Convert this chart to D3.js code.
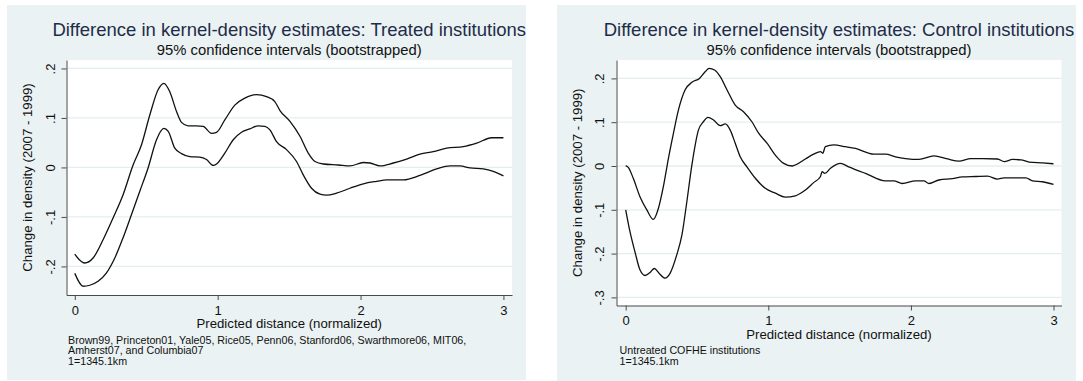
<!DOCTYPE html>
<html>
<head>
<meta charset="utf-8">
<script src="https://cdn.jsdelivr.net/npm/d3@7"></script>
<style>
  html, body { margin: 0; padding: 0; background: #fff; }
  svg { display: block; font-family: "Liberation Sans", Arial, Helvetica, sans-serif; }
  .axis path, .axis line { stroke: #4a4a4a; }
  .axis text { fill: #111; font-size: 13px; }
</style>
</head>
<body>
<div id="chart"></div>
<script>
// ---- data ----
const xTicks = [0, 1, 2, 3];
const treatedYTicks = [-0.2, -0.1, 0, 0.1, 0.2];
const controlYTicks = [-0.3, -0.2, -0.1, 0, 0.1, 0.2];

// upper / lower bootstrap bands, [distance, change in density]
const treatedHi = [[0,-0.175],[0.03,-0.186],[0.07,-0.193],[0.128,-0.183],[0.198,-0.146],[0.268,-0.102],
  [0.338,-0.055],[0.408,0.005],[0.467,0.046],[0.525,0.106],[0.583,0.157],[0.623,0.170],[0.665,0.153],
  [0.712,0.113],[0.747,0.091],[0.793,0.084],[0.85,0.084],[0.899,0.083],[0.957,0.069],[0.992,0.071],
  [1.05,0.096],[1.12,0.126],[1.19,0.140],[1.272,0.147],[1.342,0.143],[1.40,0.133],[1.436,0.115],
  [1.506,0.093],[1.576,0.063],[1.634,0.029],[1.681,0.012],[1.739,0.007],[1.844,0.005],[1.926,0.003],
  [2.02,0.010],[2.066,0.009],[2.136,0.003],[2.229,0.009],[2.323,0.017],[2.416,0.027],[2.509,0.032],
  [2.603,0.039],[2.719,0.042],[2.813,0.049],[2.918,0.060],[3.0,0.060]];
const treatedLo = [[0,-0.214],[0.058,-0.240],[0.105,-0.238],[0.163,-0.230],[0.222,-0.213],[0.28,-0.183],
  [0.338,-0.142],[0.397,-0.095],[0.455,-0.048],[0.513,-0.001],[0.572,0.056],[0.623,0.079],[0.654,0.073],
  [0.70,0.039],[0.747,0.028],[0.805,0.022],[0.875,0.021],[0.922,0.016],[0.969,0.004],[0.992,0.007],
  [1.05,0.029],[1.109,0.056],[1.167,0.071],[1.225,0.078],[1.284,0.084],[1.33,0.083],[1.366,0.076],
  [1.412,0.052],[1.482,0.036],[1.552,0.012],[1.599,-0.015],[1.657,-0.042],[1.716,-0.054],[1.762,-0.056],
  [1.832,-0.052],[1.926,-0.042],[2.02,-0.033],[2.113,-0.028],[2.183,-0.025],[2.30,-0.025],[2.416,-0.016],
  [2.533,-0.003],[2.626,0.003],[2.696,0.003],[2.766,-0.001],[2.859,-0.003],[2.929,-0.008],[3.0,-0.017]];
const controlHi = [[0,0.001],[0.018,-0.003],[0.053,-0.028],[0.10,-0.070],[0.148,-0.100],[0.194,-0.122],
  [0.229,-0.097],[0.264,-0.047],[0.30,0.018],[0.335,0.075],[0.37,0.128],[0.417,0.174],[0.464,0.191],
  [0.517,0.200],[0.557,0.215],[0.585,0.223],[0.623,0.219],[0.663,0.204],[0.71,0.174],[0.768,0.139],
  [0.826,0.124],[0.885,0.101],[0.932,0.075],[0.991,0.052],[1.049,0.025],[1.108,0.006],[1.167,0.0],
  [1.20,0.004],[1.26,0.016],[1.318,0.027],[1.366,0.033],[1.382,0.029],[1.40,0.044],[1.459,0.048],
  [1.541,0.044],[1.611,0.040],[1.74,0.027],[1.822,0.027],[1.892,0.021],[1.963,0.017],[2.056,0.015],
  [2.162,0.023],[2.256,0.016],[2.337,0.011],[2.42,0.017],[2.502,0.017],[2.607,0.016],[2.654,0.010],
  [2.713,0.015],[2.771,0.014],[2.829,0.009],[2.923,0.007],[3.0,0.005]];
const controlLo = [[0,-0.100],[0.03,-0.150],[0.065,-0.196],[0.10,-0.237],[0.136,-0.250],[0.171,-0.243],
  [0.201,-0.234],[0.234,-0.245],[0.276,-0.256],[0.311,-0.245],[0.358,-0.203],[0.394,-0.158],[0.429,-0.081],
  [0.464,0.002],[0.51,0.082],[0.545,0.101],[0.576,0.111],[0.616,0.105],[0.663,0.092],[0.698,0.096],
  [0.733,0.082],[0.768,0.052],[0.803,0.021],[0.85,-0.002],[0.909,-0.028],[0.979,-0.051],[1.049,-0.062],
  [1.119,-0.071],[1.19,-0.068],[1.26,-0.055],[1.318,-0.038],[1.366,-0.024],[1.377,-0.013],[1.396,-0.017],
  [1.436,-0.005],[1.506,0.006],[1.564,-0.002],[1.682,-0.017],[1.822,-0.034],[1.88,-0.034],[1.939,-0.040],
  [2.033,-0.034],[2.091,-0.034],[2.127,-0.040],[2.197,-0.032],[2.291,-0.029],[2.361,-0.025],[2.455,-0.024],
  [2.537,-0.023],[2.607,-0.030],[2.654,-0.027],[2.736,-0.027],[2.806,-0.027],[2.853,-0.034],[2.923,-0.036],
  [3.0,-0.042]];

const subtitle = "95% confidence intervals (bootstrapped)";
const xTitle = "Predicted distance (normalized)";
const yTitle = "Change in density (2007 - 1999)";
const treatedNotes = ["Brown99, Princeton01, Yale05, Rice05, Penn06, Stanford06, Swarthmore06, MIT06,",
  "Amherst07, and Columbia07", "1=1345.1km"];
const controlNotes = ["Untreated COFHE institutions", "1=1345.1km"];

// ---- layout ----
const width = 1083, height = 381;
const bgColor = "#eaf2f3";

const panels = [
  { id: "treated", title: "Difference in kernel-density estimates: Treated institutions",
    hi: treatedHi, lo: treatedLo, yTicks: treatedYTicks, notes: treatedNotes,
    box: { x0: 7, y0: 5, x1: 526, y1: 380 },
    plot: { left: 66.5, right: 512, top: 60, bottom: 295 },
    xDomain: [-0.058, 3.06], yDomain: [-0.2577, 0.2171],
    yLabelOff: 16.5, yTitleX: 27, noteX: 68 },
  { id: "control", title: "Difference in kernel-density estimates: Control institutions",
    hi: controlHi, lo: controlLo, yTicks: controlYTicks, notes: controlNotes,
    box: { x0: 557, y0: 5, x1: 1076, y1: 381 },
    plot: { left: 616.5, right: 1061.5, top: 60, bottom: 305.5 },
    xDomain: [-0.0645, 3.056], yDomain: [-0.3185, 0.242],
    yLabelOff: 17.5, yTitleX: 577, noteX: 619.5 }
];

// Stata style numbers: .2, -.1, 0
const stataFmt = v => v === 0 ? "0" : (v < 0 ? "-" : "") + String(+Math.abs(v).toFixed(2)).replace(/^0/, "");

const svg = d3.select("#chart").append("svg")
  .attr("width", width)
  .attr("height", height);

const defs = svg.append("defs");

panels.forEach(p => {
  const b = p.box, pl = p.plot;

  defs.append("clipPath").attr("id", "clip-" + p.id)
    .append("rect")
    .attr("x", b.x0).attr("y", b.y0)
    .attr("width", b.x1 - b.x0).attr("height", b.y1 - b.y0);

  const g = svg.append("g").attr("clip-path", "url(#clip-" + p.id + ")");

  // graph region
  g.append("rect")
    .attr("x", b.x0).attr("y", b.y0)
    .attr("width", b.x1 - b.x0).attr("height", b.y1 - b.y0)
    .attr("fill", bgColor);

  // plot region
  g.append("rect")
    .attr("x", pl.left).attr("y", pl.top)
    .attr("width", pl.right - pl.left).attr("height", pl.bottom - pl.top)
    .attr("fill", "#fff");

  const x = d3.scaleLinear().domain(p.xDomain).range([pl.left, pl.right]);
  const y = d3.scaleLinear().domain(p.yDomain).range([pl.bottom, pl.top]);
  const midX = (pl.left + pl.right) / 2;

  // gridlines
  g.append("g").selectAll("line")
    .data(p.yTicks)
    .join("line")
    .attr("x1", pl.left).attr("x2", pl.right)
    .attr("y1", d => y(d)).attr("y2", d => y(d))
    .attr("stroke", "#e4eef0")
    .attr("stroke-width", 1.3);

  // axes
  const yAxis = d3.axisLeft(y).tickValues(p.yTicks).tickFormat(stataFmt)
    .tickSize(5).tickSizeOuter(0);
  const xAxis = d3.axisBottom(x).tickValues(xTicks).tickFormat(d3.format("d"))
    .tickSize(5).tickSizeOuter(0).tickPadding(5.5);

  const ya = g.append("g").attr("class", "axis")
    .attr("transform", "translate(" + pl.left + ",0)")
    .call(yAxis);
  ya.selectAll(".tick text")
    .attr("transform", "rotate(-90)")
    .attr("x", 0)
    .attr("y", -p.yLabelOff)
    .attr("dy", "0.35em")
    .style("text-anchor", "middle");

  g.append("g").attr("class", "axis")
    .attr("transform", "translate(0," + pl.bottom + ")")
    .call(xAxis);

  // curves
  const line = d3.line()
    .curve(d3.curveMonotoneX)
    .x(d => x(d[0]))
    .y(d => y(d[1]));

  g.append("g").selectAll("path")
    .data([p.hi, p.lo])
    .join("path")
    .attr("d", line)
    .attr("fill", "none")
    .attr("stroke", "#111")
    .attr("stroke-width", 1.3);

  // titles
  g.append("text")
    .attr("x", midX).attr("y", 30).attr("dy", "0.35em")
    .attr("text-anchor", "middle")
    .attr("fill", "#1f2c48")
    .style("font-size", "18.5px")
    .text(p.title);

  g.append("text")
    .attr("x", midX).attr("y", 50).attr("dy", "0.35em")
    .attr("text-anchor", "middle")
    .attr("fill", "#111")
    .style("font-size", "14.8px")
    .text(subtitle);

  g.append("text")
    .attr("x", midX).attr("y", pl.bottom + 28.5).attr("dy", "0.35em")
    .attr("text-anchor", "middle")
    .attr("fill", "#111")
    .style("font-size", "13.2px")
    .text(xTitle);

  g.append("text")
    .attr("transform", "translate(" + p.yTitleX + "," + ((pl.top + pl.bottom) / 2) + ") rotate(-90)")
    .attr("dy", "0.35em")
    .attr("text-anchor", "middle")
    .attr("fill", "#111")
    .style("font-size", "13.2px")
    .text(yTitle);

  // notes
  g.append("g").selectAll("text")
    .data(p.notes)
    .join("text")
    .attr("x", p.noteX)
    .attr("y", (d, i) => pl.bottom + 45 + i * 10.4)
    .attr("dy", "0.35em")
    .attr("fill", "#111")
    .style("font-size", "10.7px")
    .text(d => d);
});
</script>
</body>
</html>
